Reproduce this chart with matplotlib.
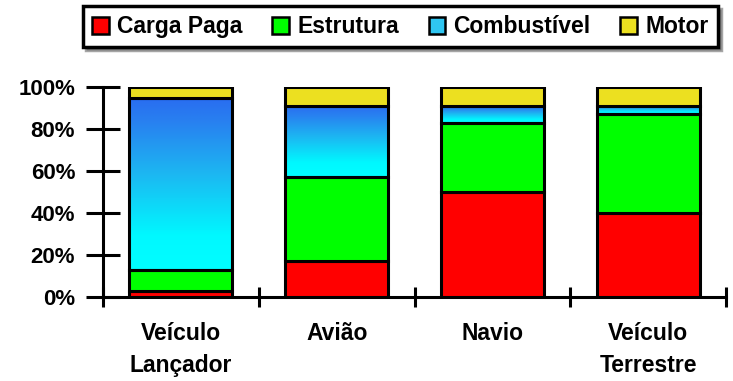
import numpy as np
import matplotlib
matplotlib.use("Agg")
import matplotlib.pyplot as plt
from matplotlib.patches import Patch, Rectangle
from matplotlib.colors import LinearSegmentedColormap
from matplotlib.ticker import PercentFormatter

plt.rcParams['font.family'] = ['Liberation Sans', 'DejaVu Sans']
plt.rcParams['font.weight'] = 'bold'

categorias = ["Veículo\nLançador", "Avião", "Navio", "Veículo\nTerrestre"]
series = ["Carga Paga", "Estrutura", "Combustível", "Motor"]
carga_paga = [3, 17, 50, 40]
estrutura = [10, 40, 33, 47]
combustivel = [82, 34, 8, 4]
motor = [5, 9, 9, 9]

cores = ["#ff0000", "#00ff00", "#2fc6f2", "#ece020"]
grad = LinearSegmentedColormap.from_list(
    "comb", [(0.0, "#00ffff"), (0.2, "#00f8ff"), (0.55, "#1cb8f2"),
             (0.85, "#2882f0"), (1.0, "#2a6cf0")])

fig = plt.figure(figsize=(7.33, 3.81), dpi=100)
ax = fig.add_axes([0.1405, 0.2205, 0.85, 0.551])

x = np.arange(len(categorias))
w = 0.66
dados = np.array([carga_paga, estrutura, combustivel, motor]) / 100.0
base = np.zeros(len(categorias))
for i, vals in enumerate(dados):
    for j in range(len(categorias)):
        if i == 2:
            # combustível em degradê: ciano embaixo, azul no topo
            rect = Rectangle((x[j] - w / 2, base[j]), w, vals[j], facecolor="none",
                             edgecolor="black", linewidth=2.2, zorder=3)
            ax.add_patch(rect)
            g = np.linspace(0, 1, 256).reshape(-1, 1)
            im = ax.imshow(g, cmap=grad, aspect="auto", origin="lower",
                           extent=(x[j] - w / 2, x[j] + w / 2, base[j], base[j] + vals[j]),
                           zorder=2, interpolation="bilinear")
            im.set_clip_path(rect)
        else:
            ax.bar(x[j], vals[j], w, bottom=base[j], color=cores[i],
                   edgecolor="black", linewidth=2.2, zorder=3)
    base += vals

ax.set_xlim(-0.5, len(categorias) - 0.5)
ax.set_ylim(0, 1)
ax.yaxis.set_major_formatter(PercentFormatter(1.0, decimals=0))
ax.set_yticks(np.arange(0, 1.01, 0.2))
ax.set_xticks(x)
ax.set_xticklabels(categorias, fontsize=16.5, fontweight="bold", linespacing=1.5)
ax.set_xticks(np.arange(-0.5, len(categorias)), minor=True)
ax.tick_params(axis="x", which="major", length=0, pad=18)
ax.tick_params(axis="x", which="minor", direction="inout", length=14, width=2.2)
ax.tick_params(axis="y", direction="inout", length=24, width=2.2, labelsize=16, pad=8)
for lbl in ax.get_yticklabels():
    lbl.set_fontweight("bold")

for s in ["top", "right"]:
    ax.spines[s].set_visible(False)
for s in ["left", "bottom"]:
    ax.spines[s].set_linewidth(2.2)
ax.spines["left"].set_bounds(0, 1)

handles = [Patch(facecolor=c, edgecolor="black", linewidth=1.8) for c in cores]
leg = fig.legend(handles, series, loc="upper left", bbox_to_anchor=(0.113, 0.984),
                 ncol=4, frameon=True, fancybox=False, edgecolor="black",
                 prop={"size": 16.5, "weight": "bold"}, handlelength=0.74,
                 handleheight=0.74, handletextpad=0.35, columnspacing=1.3,
                 borderpad=0.4, borderaxespad=0, shadow=True)
leg.get_frame().set_linewidth(2.5)

fig.savefig("out.png", dpi=100)
